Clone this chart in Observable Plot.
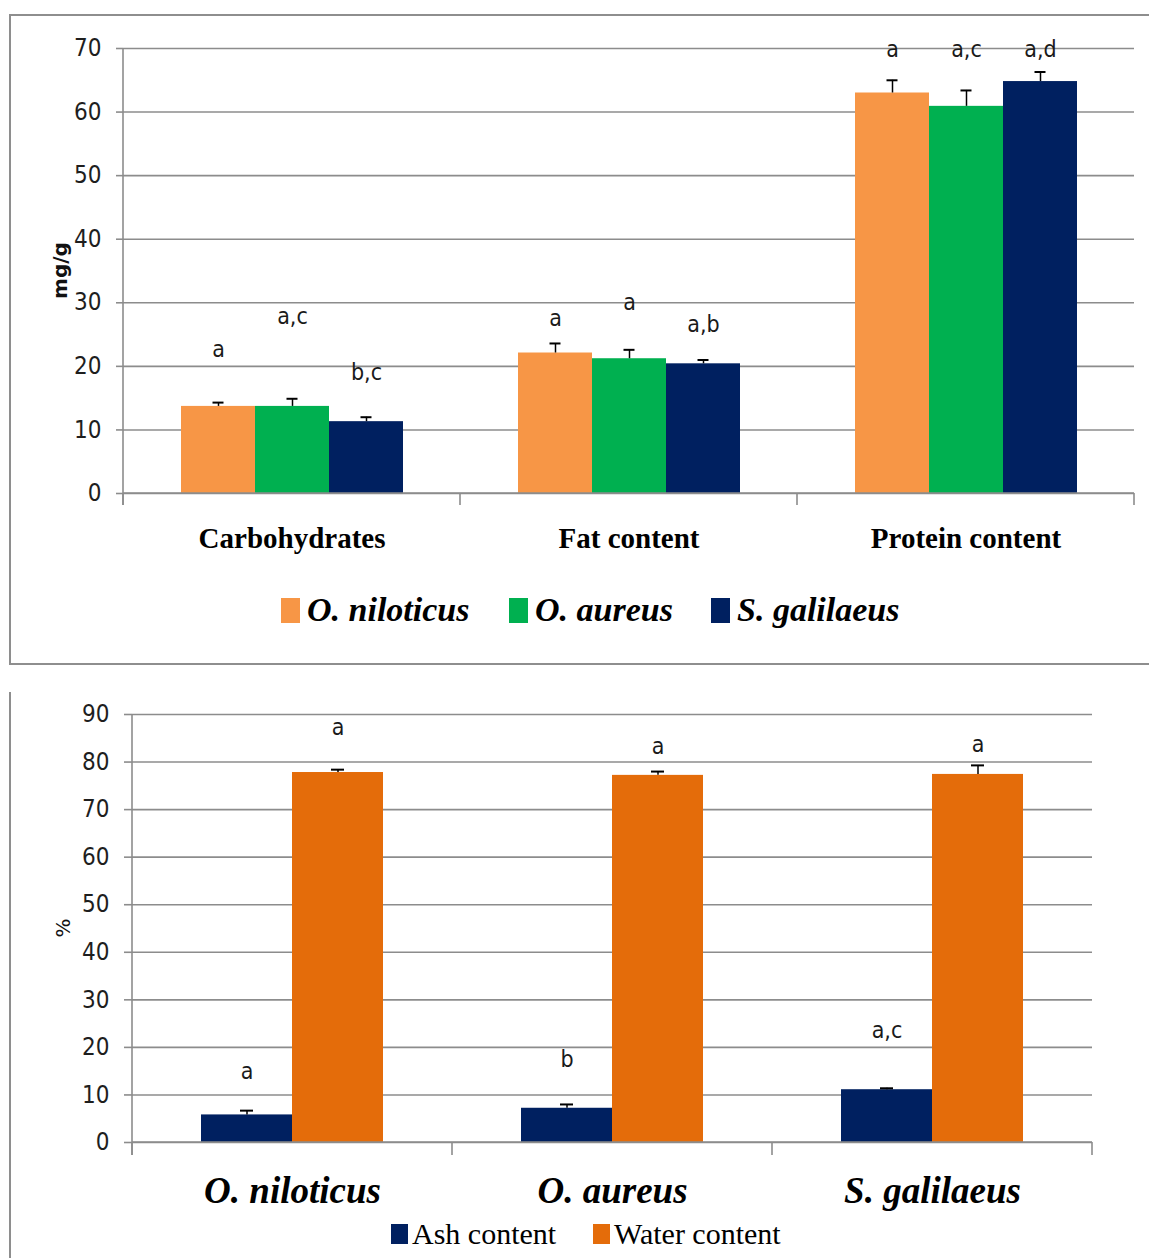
<!DOCTYPE html>
<html>
<head>
<meta charset="utf-8">
<script src="https://cdn.jsdelivr.net/npm/d3@7"></script>
<script src="https://cdn.jsdelivr.net/npm/@observablehq/plot@0.6"></script>
<style>
  html, body { margin: 0; padding: 0; background: #fff; overflow: hidden; }
  #page { position: relative; width: 1149px; height: 1258px; overflow: hidden; background: #fff; }
  #topFrame { position: absolute; left: 9px; top: 14px; width: 1170px; height: 651px; box-sizing: border-box; border: 2px solid #8e8e8e; pointer-events: none; }
  #bottomFrame { position: absolute; left: 9px; top: 692px; width: 2px; height: 566px; background: #8e8e8e; }
  .chart { position: absolute; left: 0; }
  .legend-item { position: absolute; display: flex; align-items: center; white-space: nowrap; color: #000; }
  .swatch { display: inline-block; flex: none; }
  .top-legend { font-family: "Liberation Serif", "Times New Roman", serif; font-style: italic; font-weight: bold; font-size: 34px; }
  .bottom-legend { font-family: "Liberation Serif", "Times New Roman", serif; font-size: 30px; }
</style>
</head>
<body>
<div id="page">
  <div id="topChart" class="chart" style="top:0px"></div>
  <div id="topLegend"></div>
  <div id="bottomChart" class="chart" style="top:680px"></div>
  <div id="bottomLegend"></div>
  <div id="topFrame"></div>
  <div id="bottomFrame"></div>
</div>
<script>
// ---- Proximate composition (mg/g) ----
const nutrients = ["Carbohydrates", "Fat content", "Protein content"];
const species = ["O. niloticus", "O. aureus", "S. galilaeus"];
const speciesColors = ["#F79646", "#00B050", "#002060"];

const niloticusMg = [13.7, 22.1, 63.0];
const aureusMg = [13.7, 21.2, 60.9];
const galilaeusMg = [11.3, 20.4, 64.8];

const niloticusMgErr = [0.6, 1.5, 2.0];
const aureusMgErr = [1.2, 1.4, 2.5];
const galilaeusMgErr = [0.7, 0.6, 1.5];

const niloticusMgLetters = ["a", "a", "a"];
const aureusMgLetters = ["a,c", "a", "a,c"];
const galilaeusMgLetters = ["b,c", "a,b", "a,d"];

// height (in mg/g) at which each significance letter sits
const niloticusMgLetterAt = [22.6, 27.5, 69.8];
const aureusMgLetterAt = [27.8, 30.1, 69.8];
const galilaeusMgLetterAt = [19.0, 26.6, 69.8];

const mgTicks = [0, 10, 20, 30, 40, 50, 60, 70];

// ---- Ash and water (%) ----
const measures = ["Ash content", "Water content"];
const measureColors = ["#002060", "#E46C0A"];

const ashPct = [5.8, 7.2, 11.1];
const waterPct = [77.8, 77.2, 77.4];
const ashPctErr = [0.9, 0.8, 0.3];
const waterPctErr = [0.6, 0.8, 1.9];
const ashLetters = ["a", "b", "a,c"];
const waterLetters = ["a", "a", "a"];
const ashLetterAt = [14.9, 17.5, 23.5];
const waterLetterAt = [87.3, 83.3, 83.7];

const pctTicks = [0, 10, 20, 30, 40, 50, 60, 70, 80, 90];

// ---- tables built from the arrays above ----
const mgValues = [niloticusMg, aureusMg, galilaeusMg];
const mgErrs = [niloticusMgErr, aureusMgErr, galilaeusMgErr];
const mgLetters = [niloticusMgLetters, aureusMgLetters, galilaeusMgLetters];
const mgLetterAt = [niloticusMgLetterAt, aureusMgLetterAt, galilaeusMgLetterAt];

const mgRows = [];
nutrients.forEach((n, i) => species.forEach((s, j) => mgRows.push({
  group: n, key: s,
  value: mgValues[j][i],
  top: mgValues[j][i] + mgErrs[j][i],
  letter: mgLetters[j][i],
  letterAt: mgLetterAt[j][i]
})));

const pctValues = [ashPct, waterPct];
const pctErrs = [ashPctErr, waterPctErr];
const pctLetters = [ashLetters, waterLetters];
const pctLetterAt = [ashLetterAt, waterLetterAt];

const pctRows = [];
species.forEach((s, i) => measures.forEach((m, j) => pctRows.push({
  group: s, key: m,
  value: pctValues[j][i],
  top: pctValues[j][i] + pctErrs[j][i],
  letter: pctLetters[j][i],
  letterAt: pctLetterAt[j][i]
})));

const gridColor = "#8c8c8c";
const tickFont = '"Liberation Sans Narrow", "DejaVu Sans Condensed", "Open Sans", sans-serif';
const letterFont = '"DejaVu Sans Condensed", "DejaVu Sans", sans-serif';

// category dividers under the x axis and the vertical y axis line
function addDividers(plot, groups, yMax, depth) {
  const fx = plot.scale("fx");
  const y = plot.scale("y");
  const y0 = y.apply(0);
  const edges = groups.map(g => fx.apply(g));
  edges.push(fx.apply(groups[groups.length - 1]) + fx.bandwidth);
  const g = d3.select(plot).append("g")
    .attr("stroke", gridColor).attr("stroke-width", 1.6);
  g.append("line")
    .attr("x1", edges[0]).attr("x2", edges[0])
    .attr("y1", y.apply(yMax)).attr("y2", y0 + depth);
  edges.forEach(e => g.append("line")
    .attr("x1", e).attr("x2", e).attr("y1", y0).attr("y2", y0 + depth));
  g.append("line")
    .attr("x1", edges[0]).attr("x2", edges[edges.length - 1])
    .attr("y1", y0).attr("y2", y0);
}

function groupedChart(cfg) {
  const plot = Plot.plot({
    width: 1149,
    height: cfg.height,
    marginTop: cfg.marginTop,
    marginLeft: cfg.marginLeft,
    marginRight: cfg.marginRight,
    marginBottom: cfg.marginBottom,
    style: { background: "transparent", color: "#1e1e1e", overflow: "visible" },
    fx: { domain: cfg.groups, padding: 0, label: null },
    x: { domain: cfg.keys, paddingInner: 0, paddingOuter: 0.75, axis: null },
    y: { domain: cfg.yDomain, label: null },
    color: { domain: cfg.keys, range: cfg.colors },
    marks: [
      Plot.gridY(cfg.ticks, { stroke: gridColor, strokeOpacity: 1, strokeWidth: 1.6 }),
      Plot.axisY(cfg.ticks, {
        tickSize: cfg.tickSize, tickPadding: 15, stroke: gridColor, strokeWidth: 1.6,
        fill: "#1e1e1e", fontSize: 24, fontFamily: tickFont,
        label: null
      }),
      Plot.axisFx({
        anchor: "bottom",
        tickSize: 0, tickPadding: cfg.fxPadding,
        fontSize: cfg.fxFontSize, fontFamily: '"Liberation Serif", "Times New Roman", serif',
        fontWeight: "bold", fontStyle: cfg.fxItalic ? "italic" : "normal",
        fill: "#000", label: null
      }),
      Plot.barY(cfg.rows, { fx: "group", x: "key", y: "value", fill: "key" }),
      Plot.ruleX(cfg.rows, { fx: "group", x: "key", y1: "value", y2: "top", stroke: "#000", strokeWidth: 1.5 }),
      Plot.tickY(cfg.rows, { fx: "group", x: "key", y: "top", stroke: "#000", strokeWidth: 2, insetLeft: cfg.capInset, insetRight: cfg.capInset }),
      Plot.text(cfg.rows, { fx: "group", x: "key", y: "letterAt", text: "letter",
        fontSize: 23, fontFamily: letterFont, fill: "#1a1a1a" })
    ]
  });
  addDividers(plot, cfg.groups, cfg.yDomain[1], cfg.dividerDepth);
  // rotated unit label beside the y axis
  const y = plot.scale("y");
  const cy = (y.apply(cfg.yDomain[0]) + y.apply(cfg.yDomain[1])) / 2;
  d3.select(plot).append("text")
    .attr("transform", `translate(${cfg.unitX},${cy}) rotate(-90)`)
    .attr("text-anchor", "middle")
    .attr("font-family", '"DejaVu Sans", sans-serif')
    .attr("font-weight", cfg.unitBold ? "bold" : "normal")
    .attr("font-size", 20)
    .attr("fill", "#111")
    .text(cfg.unit);
  return plot;
}

const topPlot = groupedChart({
  rows: mgRows, groups: nutrients, keys: species, colors: speciesColors,
  yDomain: [0, 70], ticks: mgTicks, height: 570,
  marginTop: 48, marginLeft: 122, marginRight: 15, marginBottom: 77,
  tickSize: 7, fxPadding: 34, fxFontSize: 29, fxItalic: false,
  capInset: 31.5, dividerDepth: 12, unit: "mg/g", unitBold: true, unitX: 67
});
document.getElementById("topChart").appendChild(topPlot);

const bottomPlot = groupedChart({
  rows: pctRows, groups: species, keys: measures, colors: measureColors,
  yDomain: [0, 90], ticks: pctTicks, height: 540,
  marginTop: 34, marginLeft: 132, marginRight: 57, marginBottom: 78,
  tickSize: 8, fxPadding: 34, fxFontSize: 37, fxItalic: true,
  capInset: 39, dividerDepth: 13, unit: "%", unitBold: false, unitX: 70
});
document.getElementById("bottomChart").appendChild(bottomPlot);

// ---- legends ----
function legend(containerId, labels, colors, lefts, top, cls, sw, sh, gap) {
  const box = document.getElementById(containerId);
  labels.forEach((label, i) => {
    const item = document.createElement("div");
    item.className = "legend-item " + cls;
    item.style.left = lefts[i] + "px";
    item.style.top = top + "px";
    const swatch = document.createElement("span");
    swatch.className = "swatch";
    swatch.style.width = sw + "px";
    swatch.style.height = sh + "px";
    swatch.style.background = colors[i];
    swatch.style.marginRight = gap + "px";
    const text = document.createElement("span");
    text.textContent = label;
    item.appendChild(swatch);
    item.appendChild(text);
    box.appendChild(item);
  });
}
legend("topLegend", species, speciesColors, [281, 509, 711], 591, "top-legend", 19, 25, 7);
legend("bottomLegend", measures, measureColors, [391, 593], 1217, "bottom-legend", 17, 20, 4);
</script>
</body>
</html>
